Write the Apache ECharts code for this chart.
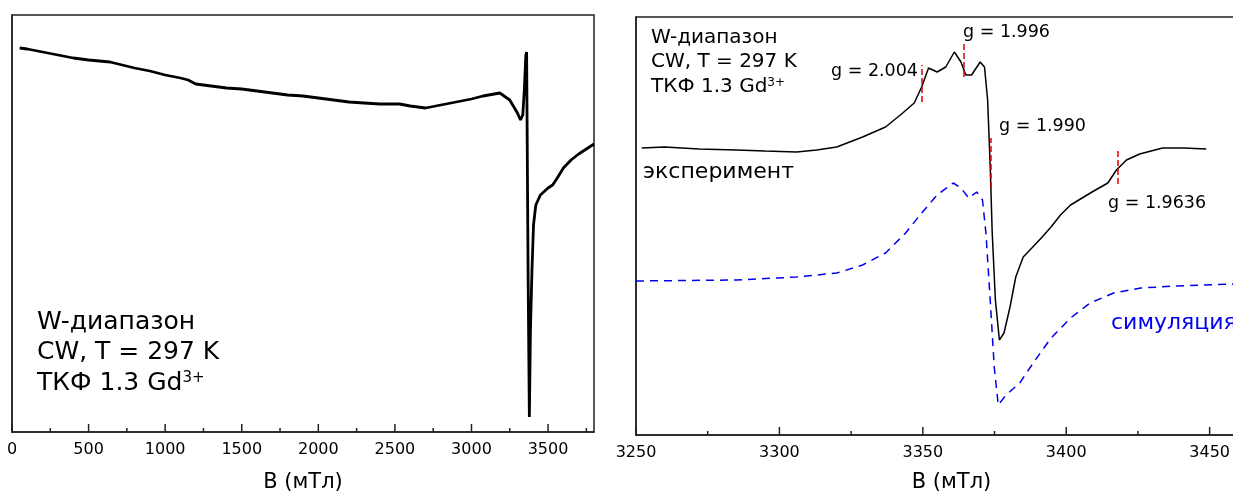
<!DOCTYPE html>
<html><head><meta charset="utf-8">
<script src="https://cdn.jsdelivr.net/npm/echarts@6/dist/echarts.min.js"></script>
<style>html,body{margin:0;padding:0;background:#fff}#c{width:1233px;height:496px}</style>
</head><body><div id="c"></div>
<script>
// Wide-scan spectrum (left panel)
const wideB = [50,100,200,300,400,500,640,800,900,1000,1100,1150,1200,1300,1400,1500,1600,1700,1800,1900,2000,2100,2200,2300,2400,2530,2600,2700,2800,2900,3000,3075,3185,3250,3300,3320,3335,3345,3355,3360,3363,3370,3378,3385,3395,3405,3420,3450,3500,3530,3560,3600,3650,3700,3750,3800];
const wideSignal = [384,383,380,377,374,372,370,364,361,357,354,352,348,346,344,343,341,339,337,336,334,332,330,329,328,328,326,324,327,330,333,336,339,332,319,312,317,342,377,380,312,152,15,102,162,207,227,237,244,247,254,264,272,278,283,288];
// Zoomed spectrum (right panel): experiment
const expB = [3252,3260,3272,3285,3295,3306,3313,3320,3329,3337,3343,3347,3349.6,3352,3355,3358,3361,3363.3,3365,3367,3370,3371.5,3372.6,3373.5,3374.2,3375.3,3376.7,3378.3,3380.4,3382.4,3385,3388,3391.3,3394.7,3398,3401.5,3409,3414.5,3417.5,3421,3425.6,3433.6,3441,3448.8];
const expSignal = [287,288,286,285,284,283,285,288,298,308,322,332,348,367,363,368,383,373,360,360,373,368,335,268,202,135,95,102,128,158,178,187,197,208,220,230,243,252,265,275,281,287,287,286];
// simulation
const simB = [3250,3285,3306,3320,3329,3337,3344,3349.6,3355,3360.6,3363.3,3366,3368.8,3370.8,3372,3373.5,3374.9,3376.3,3379,3383.8,3389.2,3394.7,3401.5,3408.3,3416.5,3426,3438.4,3470];
const simSignal = [154,155,158,162,170,182,202,222,240,252,247,237,243,235,202,135,68,30,40,52,75,97,117,132,142,147,149,152];
// g-factor markers
const gMarkerB = [3349.5,3364.3,3373.8,3418];
const gMarkerLow = [333,358,247,251];
const gMarkerHigh = [370,392,297,285];
const gLabels = ['g = 2.004','g = 1.996','g = 1.990','g = 1.9636'];
// axis ticks
const leftMajorTicks = [0,500,1000,1500,2000,2500,3000,3500];
const leftMinorTicks = [250,750,1250,1750,2250,2750,3250,3750];
const rightMajorTicks = [3250,3300,3350,3400,3450];
const rightMinorTicks = [3275,3325,3375,3425];
const infoLines = ['W-диапазон','CW, T = 297 K'];
const axisTitle = 'B (мТл)';

const FONT = 'DejaVu Sans';
const AX = '#222';
const zip = (a,b)=>a.map((v,i)=>[v,b[i]]);

function labelAxis(grid,min,max,interval,gap){
  return {gridIndex:grid,type:'value',min:min,max:max,interval:interval,position:'bottom',
    axisLine:{show:true,onZero:false,lineStyle:{color:AX,width:1.5}},
    axisTick:{show:false},
    axisLabel:{margin:10,fontSize:16,fontFamily:FONT,color:'#000',showMaxLabel:false,formatter:(v)=>String(v)},
    splitLine:{show:false},
    name:axisTitle,nameLocation:'middle',nameGap:gap,
    nameTextStyle:{fontSize:21,fontFamily:FONT,color:'#000'}};
}
function yAx(grid,max){
  return {gridIndex:grid,type:'value',min:0,max:max,
    axisLine:{show:true,onZero:false,lineStyle:{color:AX,width:1.5}},
    axisTick:{show:false},axisLabel:{show:false},splitLine:{show:false}};
}
function tickSeries(xi,yi,ticks,len){
  return {type:'custom',xAxisIndex:xi,yAxisIndex:yi,silent:true,z:5,clip:false,
    data:ticks.map(t=>[t,0]),
    renderItem:function(params,api){
      const p = api.coord([api.value(0),api.value(1)]);
      return {type:'line',shape:{x1:p[0],y1:p[1],x2:p[0],y2:p[1]-len},style:{stroke:AX,lineWidth:1.5}};
    }};
}
function txt(x,y,text,size,color,align){
  return {type:'text',x:x,y:y,silent:true,style:{text:text,fontSize:size,fontFamily:FONT,fill:color||'#000',align:align||'left',verticalAlign:'middle'}};
}
function supTxt(x,y,size,supSize){
  return {type:'text',x:x,y:y,silent:true,style:{text:'{a|ТКФ 1.3 Gd}{b|3+}',verticalAlign:'middle',
    rich:{a:{fontSize:size,fontFamily:FONT,fill:'#000'},b:{fontSize:supSize,fontFamily:FONT,fill:'#000',verticalAlign:'top'}}}};
}

const chart = echarts.init(document.getElementById('c'),null,{renderer:'canvas'});
chart.setOption({
  animation:false,
  backgroundColor:'#fff',
  grid:[
    {left:12,right:639,top:15,bottom:64,show:true,borderColor:AX,borderWidth:1.5,containLabel:false,outerBoundsMode:'none'},
    {left:636,right:-34,top:17,bottom:61,show:true,borderColor:AX,borderWidth:1.5,containLabel:false,outerBoundsMode:'none'}
  ],
  xAxis:[
    labelAxis(0,0,3800,500,40),
    labelAxis(1,3250,3470,50,37)
  ],
  yAxis:[yAx(0,417),yAx(1,418)],
  series:[
    tickSeries(0,0,leftMajorTicks,8),
    tickSeries(0,0,leftMinorTicks,4),
    tickSeries(1,1,rightMajorTicks,8),
    tickSeries(1,1,rightMinorTicks,4),
    {type:'line',xAxisIndex:0,yAxisIndex:0,data:zip(wideB,wideSignal),showSymbol:false,symbol:'none',
      lineStyle:{color:'#000',width:2.8},silent:true},
    {type:'line',xAxisIndex:1,yAxisIndex:1,data:zip(simB,simSignal),showSymbol:false,symbol:'none',
      lineStyle:{color:'#0000ee',width:1.5,type:[8,6]},silent:true},
    {type:'line',xAxisIndex:1,yAxisIndex:1,data:zip(expB,expSignal),showSymbol:false,symbol:'none',
      lineStyle:{color:'#000',width:1.5},silent:true,
      markLine:{silent:true,symbol:['none','none'],label:{show:false},
        lineStyle:{color:'#e00000',type:[6,3],width:1.5},
        data:gMarkerB.map((b,i)=>[{coord:[b,gMarkerLow[i]]},{coord:[b,gMarkerHigh[i]]}])}}
  ],
  graphic:[
    txt(37,322,infoLines[0],25),
    txt(37,352,infoLines[1],25),
    supTxt(37,383,25,15),
    txt(651,38,infoLines[0],20),
    txt(651,62,infoLines[1],20),
    supTxt(651,87,20,12),
    txt(918,71,gLabels[0],17.5,'#000','right'),
    txt(963,32,gLabels[1],17.5),
    txt(999,126,gLabels[2],17.5),
    txt(1108,203,gLabels[3],17.5),
    txt(643,172,'эксперимент',22),
    txt(1111,323,'симуляция',22,'#0000ee')
  ]
});
</script></body></html>
